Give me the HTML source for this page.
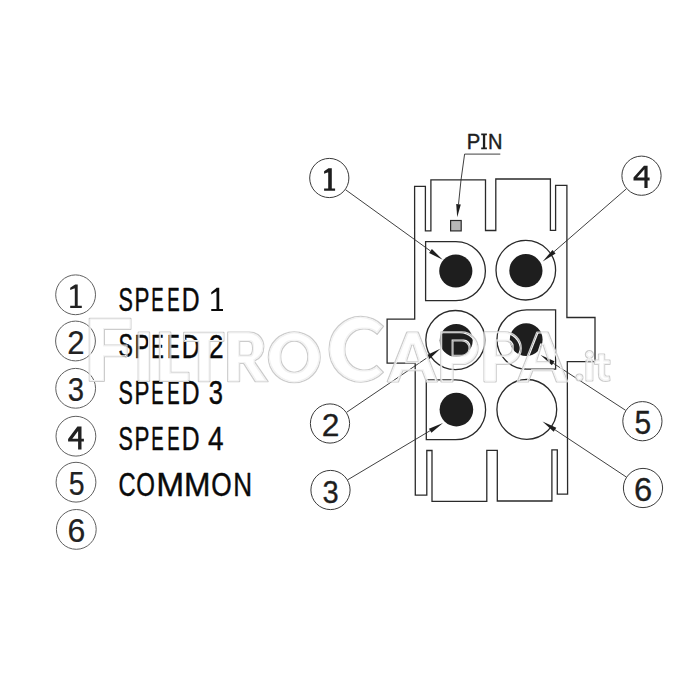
<!DOCTYPE html>
<html><head><meta charset="utf-8"><style>
html,body{margin:0;padding:0;background:#fff;}
svg{display:block;}
</style></head><body>
<svg width="700" height="700" viewBox="0 0 700 700">
<defs><filter id="ol" x="-10%" y="-10%" width="120%" height="120%" color-interpolation-filters="sRGB">
<feMorphology in="SourceAlpha" operator="erode" radius="1" result="e1"/>
<feMorphology in="SourceAlpha" operator="erode" radius="2" result="e2"/>
<feComposite in="SourceAlpha" in2="e1" operator="out" result="r1"/>
<feComposite in="e1" in2="e2" operator="out" result="r2"/>
<feFlood flood-color="#cccccc"/><feComposite in2="r1" operator="in" result="g1"/>
<feFlood flood-color="#f2f2f2"/><feComposite in2="r2" operator="in" result="g2"/>
<feMerge><feMergeNode in="g1"/><feMergeNode in="g2"/></feMerge>
</filter></defs>
<rect width="700" height="700" fill="#fff"/>
<path d="M414.6,186.3 L425.4,186.3 L425.4,230.8 L430.9,230.8 L430.9,179.8 L485.5,179.8 L485.5,230.5 L495.8,230.5 L495.8,179.0 L550.4,179.0 L550.4,230.3 L555.6,230.3 L555.6,185.3 L566.9,185.3 L566.9,317.5 L595.0,317.5 L595.0,361.6 L567.3,361.6 L567.6,494.2 L557.3,494.2 L557.3,449.8 L551.9,449.8 L551.9,501.0 L497.3,501.0 L497.3,450.3 L486.8,450.3 L486.8,501.4 L432.0,501.4 L432.0,450.5 L426.8,450.5 L426.8,495.2 L415.3,495.2 L415.2,363.1 L387.1,363.1 L387.1,319.1 L414.7,319.1 Z" fill="none" stroke="#2a2a2a" stroke-width="1.3" stroke-linejoin="miter"/>
<path d="M455.9,241.6 A29.5,29.5 0 0 1 455.9,300.6 L425.6,300.6 L425.6,241.6 Z" fill="none" stroke="#2a2a2a" stroke-width="1.3"/>
<circle cx="525.8" cy="270.2" r="29.8" fill="none" stroke="#2a2a2a" stroke-width="1.3"/>
<circle cx="455.4" cy="340.1" r="29.6" fill="none" stroke="#2a2a2a" stroke-width="1.3"/>
<path d="M526.6,309.8 A29.65,29.65 0 0 0 526.6,369.1 L555.6,369.1 L555.6,309.8 Z" fill="none" stroke="#2a2a2a" stroke-width="1.3"/>
<path d="M455.7,379.9 A29.9,29.9 0 0 1 455.7,439.7 L426.3,439.7 L426.3,379.9 Z" fill="none" stroke="#2a2a2a" stroke-width="1.3"/>
<circle cx="526.8" cy="409.4" r="29.9" fill="none" stroke="#2a2a2a" stroke-width="1.3"/>
<circle cx="455.8" cy="271.0" r="16.6" fill="#1e1e1e"/>
<circle cx="525.9" cy="270.7" r="16.6" fill="#1e1e1e"/>
<circle cx="456.2" cy="340.4" r="16.5" fill="#1e1e1e"/>
<circle cx="526.2" cy="339.6" r="16.4" fill="#1e1e1e"/>
<circle cx="456.4" cy="409.6" r="16.8" fill="#1e1e1e"/>
<rect x="450.6" y="220.5" width="10.6" height="10.4" fill="#b8b8b8" stroke="#2a2a2a" stroke-width="1.2"/>
<line x1="345.5" y1="189.7" x2="430.5" y2="251.0" stroke="#2a2a2a" stroke-width="0.9"/><path d="M442.7,259.8 L429.1,253.0 L431.9,249.1 Z" fill="#1e1e1e"/>
<line x1="626.4" y1="188.8" x2="554.0" y2="251.7" stroke="#2a2a2a" stroke-width="0.9"/><path d="M542.7,261.5 L552.5,249.9 L555.6,253.5 Z" fill="#1e1e1e"/>
<line x1="346.6" y1="412.3" x2="427.9" y2="357.2" stroke="#2a2a2a" stroke-width="0.9"/><path d="M440.3,348.8 L429.2,359.2 L426.5,355.2 Z" fill="#1e1e1e"/>
<line x1="625.6" y1="410.3" x2="553.2" y2="363.2" stroke="#2a2a2a" stroke-width="0.9"/><path d="M540.6,355.0 L554.5,361.2 L551.9,365.2 Z" fill="#1e1e1e"/>
<line x1="347.7" y1="479.8" x2="430.1" y2="430.7" stroke="#2a2a2a" stroke-width="0.9"/><path d="M443.0,423.0 L431.4,432.8 L428.9,428.7 Z" fill="#1e1e1e"/>
<line x1="626.3" y1="477.0" x2="555.0" y2="429.8" stroke="#2a2a2a" stroke-width="0.9"/><path d="M542.5,421.5 L556.3,427.8 L553.7,431.8 Z" fill="#1e1e1e"/>
<polyline points="500.3,154.1 464.6,154.1 461,180" fill="none" stroke="#2a2a2a" stroke-width="0.9"/>
<line x1="461.0" y1="180.0" x2="458.5" y2="204.3" stroke="#2a2a2a" stroke-width="0.9"/><path d="M457.2,217.2 L456.2,204.0 L460.8,204.5 Z" fill="#1e1e1e"/>
<text transform="translate(466.84,149.10) scale(0.2030,0.2253)" font-family="&quot;Liberation Sans&quot;, sans-serif" font-weight="normal" font-size="100" fill="#1e1e1e"  stroke="#1e1e1e" stroke-width="0.4" vector-effect="non-scaling-stroke" stroke-linejoin="round">P</text>
<path d="M481.2,133.4 L486.9,133.4 L486.9,135.2 L485.2,135.2 L485.2,147.5 L486.9,147.5 L486.9,149.3 L481.2,149.3 L481.2,147.5 L482.9,147.5 L482.9,135.2 L481.2,135.2 Z" fill="#1e1e1e"/>
<text transform="translate(488.06,149.10) scale(0.2004,0.2253)" font-family="&quot;Liberation Sans&quot;, sans-serif" font-weight="normal" font-size="100" fill="#1e1e1e"  stroke="#1e1e1e" stroke-width="0.4" vector-effect="non-scaling-stroke" stroke-linejoin="round">N</text>
<circle cx="329.3" cy="178.0" r="19.6" fill="#fff" stroke="#3a3a3a" stroke-width="1"/>
<path d="M324.1,188.6 L335.1,188.6 L335.1,190.7 L324.1,190.7 Z M328.2,168.2 L331.8,168.2 L331.8,190.7 L328.2,190.7 Z M328.5,168.2 L328.2,172.36 L324.1,173.8 L324.1,171.2 Z" fill="#1e1e1e"/>
<circle cx="641.5" cy="175.7" r="19.6" fill="#fff" stroke="#3a3a3a" stroke-width="1"/>
<path fill-rule="evenodd" fill="#1e1e1e" d="M644.0,165.7 L647.6,165.7 L647.6,177.4 L649.6,177.4 L649.6,180.4 L647.6,180.4 L647.6,188.1 L644.4,188.1 L644.4,180.4 L633.5,180.4 L633.5,177.6 Z M644.4,169.2 L644.4,177.4 L637.1,177.4 Z"/>
<circle cx="330.0" cy="423.5" r="19.6" fill="#fff" stroke="#3a3a3a" stroke-width="1"/>
<text transform="translate(321.66,436.35) scale(0.3180,0.3181)" font-family="&quot;Liberation Sans&quot;, sans-serif" font-weight="normal" font-size="100" fill="#1e1e1e"  stroke="#1e1e1e" stroke-width="0.3" vector-effect="non-scaling-stroke" stroke-linejoin="round">2</text>
<circle cx="642.4" cy="421.2" r="19.6" fill="#fff" stroke="#3a3a3a" stroke-width="1"/>
<text transform="translate(634.55,434.32) scale(0.2996,0.3324)" font-family="&quot;Liberation Sans&quot;, sans-serif" font-weight="normal" font-size="100" fill="#1e1e1e"  stroke="#1e1e1e" stroke-width="0.3" vector-effect="non-scaling-stroke" stroke-linejoin="round">5</text>
<circle cx="330.5" cy="490.0" r="19.6" fill="#fff" stroke="#3a3a3a" stroke-width="1"/>
<text transform="translate(322.44,503.33) scale(0.2911,0.3206)" font-family="&quot;Liberation Sans&quot;, sans-serif" font-weight="normal" font-size="100" fill="#1e1e1e"  stroke="#1e1e1e" stroke-width="0.3" vector-effect="non-scaling-stroke" stroke-linejoin="round">3</text>
<circle cx="643.0" cy="488.0" r="19.6" fill="#fff" stroke="#3a3a3a" stroke-width="1"/>
<text transform="translate(634.08,501.12) scale(0.3275,0.3277)" font-family="&quot;Liberation Sans&quot;, sans-serif" font-weight="normal" font-size="100" fill="#1e1e1e"  stroke="#1e1e1e" stroke-width="0.3" vector-effect="non-scaling-stroke" stroke-linejoin="round">6</text>
<circle cx="75.6" cy="294.8" r="19.9" fill="none" stroke="#606060" stroke-width="1"/>
<circle cx="75.5" cy="341.0" r="19.9" fill="none" stroke="#606060" stroke-width="1"/>
<circle cx="75.65" cy="388.3" r="19.9" fill="none" stroke="#606060" stroke-width="1"/>
<circle cx="75.9" cy="436.2" r="19.9" fill="none" stroke="#606060" stroke-width="1"/>
<circle cx="76.0" cy="482.2" r="19.9" fill="none" stroke="#606060" stroke-width="1"/>
<circle cx="76.3" cy="529.4" r="19.9" fill="none" stroke="#606060" stroke-width="1"/>
<path fill-rule="evenodd" fill="#222" d="M77.4,426.4 L81.5,426.4 L81.5,438.7 L83.9,438.7 L83.9,441.6 L81.5,441.6 L81.5,449.6 L78.1,449.6 L78.1,441.6 L68.1,441.6 L68.1,439.0 Z M78.1,431.0 L78.1,438.7 L72.3,438.7 Z"/>
<path d="M70.2,305.8 L81.8,305.8 L81.8,307.9 L70.2,307.9 Z M74.8,284.6 L77.7,284.6 L77.7,307.9 L74.8,307.9 Z M75.1,284.6 L74.8,288.28 L70.2,289.95 L70.2,287.65 Z" fill="#222"/>
<text transform="translate(67.34,353.90) scale(0.3114,0.3309)" font-family="&quot;Liberation Sans&quot;, sans-serif" font-weight="normal" font-size="100" fill="#222"  stroke="#222" stroke-width="0.2" vector-effect="non-scaling-stroke" stroke-linejoin="round">2</text>
<text transform="translate(67.79,401.27) scale(0.2932,0.3305)" font-family="&quot;Liberation Sans&quot;, sans-serif" font-weight="normal" font-size="100" fill="#222"  stroke="#222" stroke-width="0.2" vector-effect="non-scaling-stroke" stroke-linejoin="round">3</text>
<text transform="translate(68.76,495.26) scale(0.2848,0.3352)" font-family="&quot;Liberation Sans&quot;, sans-serif" font-weight="normal" font-size="100" fill="#222"  stroke="#222" stroke-width="0.2" vector-effect="non-scaling-stroke" stroke-linejoin="round">5</text>
<text transform="translate(67.56,542.47) scale(0.3210,0.3305)" font-family="&quot;Liberation Sans&quot;, sans-serif" font-weight="normal" font-size="100" fill="#222"  stroke="#222" stroke-width="0.2" vector-effect="non-scaling-stroke" stroke-linejoin="round">6</text>
<text transform="translate(118.51,310.58) scale(0.2157,0.3249)" font-family="&quot;Liberation Sans&quot;, sans-serif" font-weight="normal" font-size="100" fill="#0a0a0a"  stroke="#0a0a0a" stroke-width="0.4" vector-effect="non-scaling-stroke" stroke-linejoin="round">S</text>
<text transform="translate(134.57,310.90) scale(0.2237,0.3343)" font-family="&quot;Liberation Sans&quot;, sans-serif" font-weight="normal" font-size="100" fill="#0a0a0a"  stroke="#0a0a0a" stroke-width="0.4" vector-effect="non-scaling-stroke" stroke-linejoin="round">P</text>
<text transform="translate(151.17,310.90) scale(0.1863,0.3343)" font-family="&quot;Liberation Sans&quot;, sans-serif" font-weight="normal" font-size="100" fill="#0a0a0a"  stroke="#0a0a0a" stroke-width="0.4" vector-effect="non-scaling-stroke" stroke-linejoin="round">E</text>
<text transform="translate(167.17,310.90) scale(0.1863,0.3343)" font-family="&quot;Liberation Sans&quot;, sans-serif" font-weight="normal" font-size="100" fill="#0a0a0a"  stroke="#0a0a0a" stroke-width="0.4" vector-effect="non-scaling-stroke" stroke-linejoin="round">E</text>
<text transform="translate(181.68,310.90) scale(0.2466,0.3343)" font-family="&quot;Liberation Sans&quot;, sans-serif" font-weight="normal" font-size="100" fill="#0a0a0a"  stroke="#0a0a0a" stroke-width="0.4" vector-effect="non-scaling-stroke" stroke-linejoin="round">D</text>
<path d="M211.25,309.1 L223.0,309.1 L223.0,311.1 L211.25,311.1 Z M216.5,287.7 L219.25,287.7 L219.25,311.1 L216.5,311.1 Z M216.8,287.7 L216.5,291.22 L211.25,294.4 L211.25,292.2 Z" fill="#0a0a0a"/>
<text transform="translate(118.51,357.48) scale(0.2157,0.3249)" font-family="&quot;Liberation Sans&quot;, sans-serif" font-weight="normal" font-size="100" fill="#0a0a0a"  stroke="#0a0a0a" stroke-width="0.4" vector-effect="non-scaling-stroke" stroke-linejoin="round">S</text>
<text transform="translate(134.57,357.80) scale(0.2237,0.3343)" font-family="&quot;Liberation Sans&quot;, sans-serif" font-weight="normal" font-size="100" fill="#0a0a0a"  stroke="#0a0a0a" stroke-width="0.4" vector-effect="non-scaling-stroke" stroke-linejoin="round">P</text>
<text transform="translate(151.17,357.80) scale(0.1863,0.3343)" font-family="&quot;Liberation Sans&quot;, sans-serif" font-weight="normal" font-size="100" fill="#0a0a0a"  stroke="#0a0a0a" stroke-width="0.4" vector-effect="non-scaling-stroke" stroke-linejoin="round">E</text>
<text transform="translate(167.17,357.80) scale(0.1863,0.3343)" font-family="&quot;Liberation Sans&quot;, sans-serif" font-weight="normal" font-size="100" fill="#0a0a0a"  stroke="#0a0a0a" stroke-width="0.4" vector-effect="non-scaling-stroke" stroke-linejoin="round">E</text>
<text transform="translate(181.68,357.80) scale(0.2466,0.3343)" font-family="&quot;Liberation Sans&quot;, sans-serif" font-weight="normal" font-size="100" fill="#0a0a0a"  stroke="#0a0a0a" stroke-width="0.4" vector-effect="non-scaling-stroke" stroke-linejoin="round">D</text>
<text transform="translate(208.76,357.80) scale(0.2675,0.3295)" font-family="&quot;Liberation Sans&quot;, sans-serif" font-weight="normal" font-size="100" fill="#0a0a0a"  stroke="#0a0a0a" stroke-width="0.4" vector-effect="non-scaling-stroke" stroke-linejoin="round">2</text>
<text transform="translate(118.51,403.67) scale(0.2157,0.3291)" font-family="&quot;Liberation Sans&quot;, sans-serif" font-weight="normal" font-size="100" fill="#0a0a0a"  stroke="#0a0a0a" stroke-width="0.4" vector-effect="non-scaling-stroke" stroke-linejoin="round">S</text>
<text transform="translate(134.57,404.00) scale(0.2237,0.3387)" font-family="&quot;Liberation Sans&quot;, sans-serif" font-weight="normal" font-size="100" fill="#0a0a0a"  stroke="#0a0a0a" stroke-width="0.4" vector-effect="non-scaling-stroke" stroke-linejoin="round">P</text>
<text transform="translate(151.17,404.00) scale(0.1863,0.3387)" font-family="&quot;Liberation Sans&quot;, sans-serif" font-weight="normal" font-size="100" fill="#0a0a0a"  stroke="#0a0a0a" stroke-width="0.4" vector-effect="non-scaling-stroke" stroke-linejoin="round">E</text>
<text transform="translate(167.17,404.00) scale(0.1863,0.3387)" font-family="&quot;Liberation Sans&quot;, sans-serif" font-weight="normal" font-size="100" fill="#0a0a0a"  stroke="#0a0a0a" stroke-width="0.4" vector-effect="non-scaling-stroke" stroke-linejoin="round">E</text>
<text transform="translate(181.68,404.00) scale(0.2466,0.3387)" font-family="&quot;Liberation Sans&quot;, sans-serif" font-weight="normal" font-size="100" fill="#0a0a0a"  stroke="#0a0a0a" stroke-width="0.4" vector-effect="non-scaling-stroke" stroke-linejoin="round">D</text>
<text transform="translate(208.73,403.67) scale(0.2553,0.3291)" font-family="&quot;Liberation Sans&quot;, sans-serif" font-weight="normal" font-size="100" fill="#0a0a0a"  stroke="#0a0a0a" stroke-width="0.4" vector-effect="non-scaling-stroke" stroke-linejoin="round">3</text>
<text transform="translate(118.51,449.67) scale(0.2157,0.3291)" font-family="&quot;Liberation Sans&quot;, sans-serif" font-weight="normal" font-size="100" fill="#0a0a0a"  stroke="#0a0a0a" stroke-width="0.4" vector-effect="non-scaling-stroke" stroke-linejoin="round">S</text>
<text transform="translate(134.57,450.00) scale(0.2237,0.3387)" font-family="&quot;Liberation Sans&quot;, sans-serif" font-weight="normal" font-size="100" fill="#0a0a0a"  stroke="#0a0a0a" stroke-width="0.4" vector-effect="non-scaling-stroke" stroke-linejoin="round">P</text>
<text transform="translate(151.17,450.00) scale(0.1863,0.3387)" font-family="&quot;Liberation Sans&quot;, sans-serif" font-weight="normal" font-size="100" fill="#0a0a0a"  stroke="#0a0a0a" stroke-width="0.4" vector-effect="non-scaling-stroke" stroke-linejoin="round">E</text>
<text transform="translate(167.17,450.00) scale(0.1863,0.3387)" font-family="&quot;Liberation Sans&quot;, sans-serif" font-weight="normal" font-size="100" fill="#0a0a0a"  stroke="#0a0a0a" stroke-width="0.4" vector-effect="non-scaling-stroke" stroke-linejoin="round">E</text>
<text transform="translate(181.68,450.00) scale(0.2466,0.3387)" font-family="&quot;Liberation Sans&quot;, sans-serif" font-weight="normal" font-size="100" fill="#0a0a0a"  stroke="#0a0a0a" stroke-width="0.4" vector-effect="non-scaling-stroke" stroke-linejoin="round">D</text>
<text transform="translate(207.96,450.00) scale(0.2798,0.3387)" font-family="&quot;Liberation Sans&quot;, sans-serif" font-weight="normal" font-size="100" fill="#0a0a0a"  stroke="#0a0a0a" stroke-width="0.4" vector-effect="non-scaling-stroke" stroke-linejoin="round">4</text>
<text transform="translate(118.59,495.77) scale(0.2370,0.3277)" font-family="&quot;Liberation Sans&quot;, sans-serif" font-weight="normal" font-size="100" fill="#0a0a0a"  stroke="#0a0a0a" stroke-width="0.4" vector-effect="non-scaling-stroke" stroke-linejoin="round">C</text>
<text transform="translate(136.17,495.77) scale(0.2401,0.3277)" font-family="&quot;Liberation Sans&quot;, sans-serif" font-weight="normal" font-size="100" fill="#0a0a0a"  stroke="#0a0a0a" stroke-width="0.4" vector-effect="non-scaling-stroke" stroke-linejoin="round">O</text>
<text transform="translate(156.35,496.10) scale(0.3348,0.3372)" font-family="&quot;Liberation Sans&quot;, sans-serif" font-weight="normal" font-size="100" fill="#0a0a0a"  stroke="#0a0a0a" stroke-width="0.4" vector-effect="non-scaling-stroke" stroke-linejoin="round">M</text>
<text transform="translate(184.09,496.10) scale(0.3184,0.3372)" font-family="&quot;Liberation Sans&quot;, sans-serif" font-weight="normal" font-size="100" fill="#0a0a0a"  stroke="#0a0a0a" stroke-width="0.4" vector-effect="non-scaling-stroke" stroke-linejoin="round">M</text>
<text transform="translate(211.27,495.77) scale(0.2621,0.3277)" font-family="&quot;Liberation Sans&quot;, sans-serif" font-weight="normal" font-size="100" fill="#0a0a0a"  stroke="#0a0a0a" stroke-width="0.4" vector-effect="non-scaling-stroke" stroke-linejoin="round">O</text>
<text transform="translate(233.36,496.10) scale(0.2612,0.3372)" font-family="&quot;Liberation Sans&quot;, sans-serif" font-weight="normal" font-size="100" fill="#0a0a0a"  stroke="#0a0a0a" stroke-width="0.4" vector-effect="non-scaling-stroke" stroke-linejoin="round">N</text>
<g filter="url(#ol)"><path d="M89.5,318.5 L130.7,318.5 L130.7,329.3 L104.2,329.3 L104.2,345.2 L126.8,345.2 L126.8,356.5 L104.2,356.5 L104.2,381.1 L89.5,381.1 Z" fill="#000" fill-rule="evenodd" stroke="#000" stroke-width="1.6" stroke-linejoin="round"/></g>
<g filter="url(#ol)"><path d="M138.4,332.4 L149.4,332.4 L149.4,381.1 L138.4,381.1 Z" fill="#000" fill-rule="evenodd" stroke="#000" stroke-width="1.6" stroke-linejoin="round"/></g>
<g filter="url(#ol)"><path d="M159.6,332.4 L170.6,332.4 L170.6,372.5 L188.7,372.5 L188.7,381.1 L159.6,381.1 Z" fill="#000" fill-rule="evenodd" stroke="#000" stroke-width="1.6" stroke-linejoin="round"/></g>
<g filter="url(#ol)"><path d="M183.9,332.5 L223.7,332.5 L223.7,341.1 L209.6,341.1 L209.6,381.4 L198.6,381.4 L198.6,341.1 L183.9,341.1 Z" fill="#000" fill-rule="evenodd" stroke="#000" stroke-width="1.6" stroke-linejoin="round"/></g>
<g filter="url(#ol)"><path d="M227.9,332.4 L249.5,332.4 C258.3,332.4 263.6,338.6 263.6,346.8 C263.6,353.5 259.8,358.8 254.0,361.1 L267.9,381.5 L255.3,381.5 L243.7,363.3 L239.4,363.3 L239.4,381.5 L227.9,381.5 Z M239.4,341.3 L248.3,341.3 C251.3,341.3 252.8,344.6 252.8,348.4 C252.8,352.4 251.0,355.6 248.0,355.6 L239.4,355.6 Z" fill="#000" fill-rule="evenodd" stroke="#000" stroke-width="1.6" stroke-linejoin="round"/></g>
<g filter="url(#ol)"><path d="M268.5,357.25 A25.75,25.25 0 1 0 320.0,357.25 A25.75,25.25 0 1 0 268.5,357.25 Z M280.5,356.75 A13.75,15.75 0 1 0 308.0,356.75 A13.75,15.75 0 1 0 280.5,356.75 Z" fill="#000" fill-rule="evenodd" stroke="#000" stroke-width="1.6" stroke-linejoin="round"/></g>
<g filter="url(#ol)"><path d="M383.3,326.3 A31.6,32.6 0 1 0 383.3,372.2 L376.6,365.5 A19.5,20.8 0 1 1 377.2,334.1 Z" fill="#000" fill-rule="evenodd" stroke="#000" stroke-width="1.6" stroke-linejoin="round"/></g>
<g filter="url(#ol)"><path d="M387.4,381.6 L406.9,332.4 L418.1,332.4 L437.4,381.6 L426.5,381.6 L422.2,370.5 L402.7,370.5 L398.3,381.6 Z M412.5,342.2 L419.0,362.1 L406.0,362.1 Z" fill="#000" fill-rule="evenodd" stroke="#000" stroke-width="1.6" stroke-linejoin="round"/></g>
<g filter="url(#ol)"><path d="M441,332.1 L461.8,332.1 A16.1,16.1 0 0 1 461.8,364.3 L452.8,364.3 L452.8,381.6 L441,381.6 Z M452.8,340.7 L461.85,340.7 A7.45,7.45 0 0 1 461.85,355.6 L452.8,355.6 Z" fill="#000" fill-rule="evenodd" stroke="#000" stroke-width="1.6" stroke-linejoin="round"/></g>
<g filter="url(#ol)"><path d="M484.2,332.1 L505.0,332.1 A16.1,16.1 0 0 1 505.0,364.3 L496.0,364.3 L496.0,381.6 L484.2,381.6 Z M496.0,340.7 L505.05,340.7 A7.45,7.45 0 0 1 505.05,355.6 L496.0,355.6 Z" fill="#000" fill-rule="evenodd" stroke="#000" stroke-width="1.6" stroke-linejoin="round"/></g>
<g filter="url(#ol)"><path d="M517.4,381.6 L536.9,332.4 L548.1,332.4 L567.4,381.6 L556.5,381.6 L552.2,370.5 L532.7,370.5 L528.3,381.6 Z M542.5,342.2 L549.0,362.1 L536.0,362.1 Z" fill="#000" fill-rule="evenodd" stroke="#000" stroke-width="1.6" stroke-linejoin="round"/></g>
<g filter="url(#ol)"><path d="M576.1,377.5 A3.3,3.3 0 1 0 582.7,377.5 A3.3,3.3 0 1 0 576.1,377.5 Z" fill="#000" fill-rule="evenodd" stroke="#000" stroke-width="1.6" stroke-linejoin="round"/></g>
<g filter="url(#ol)"><path d="M585.6,354.6 A3.8,3.8 0 1 0 593.2,354.6 A3.8,3.8 0 1 0 585.6,354.6 Z M586.2,360.4 L592.6,360.4 L592.6,380.7 L586.2,380.7 Z" fill="#000" fill-rule="evenodd" stroke="#000" stroke-width="1.6" stroke-linejoin="round"/></g>
<g filter="url(#ol)"><path d="M598.7,354.3 L604.4,354.3 L604.4,360.4 L609.8,360.4 L609.8,364.3 L604.4,364.3 L604.4,373.8 Q604.4,376.6 607.2,376.6 L609.3,376.3 L609.8,380.4 Q607.6,381.1 605.4,381.1 Q598.7,381.1 598.7,374.2 L598.7,364.3 L594.8,364.3 L594.8,360.4 L598.7,360.4 Z" fill="#000" fill-rule="evenodd" stroke="#000" stroke-width="1.6" stroke-linejoin="round"/></g>
</svg></body></html>
